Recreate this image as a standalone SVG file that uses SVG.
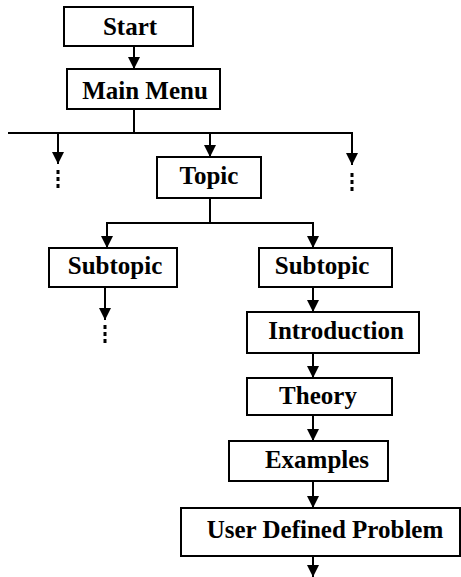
<svg xmlns="http://www.w3.org/2000/svg" width="461" height="577" viewBox="0 0 461 577">
<style>
.box{fill:#fff;stroke:#000;stroke-width:2}
.lbl{font-family:"Liberation Serif","Times New Roman",serif;font-weight:bold;font-size:25px;fill:#000;text-anchor:middle}
.ln{stroke:#000;stroke-width:2;fill:none}
.dots{stroke:#000;stroke-width:3;stroke-dasharray:4 3;fill:none}
</style>
<defs>
<marker id="ah" markerWidth="12" markerHeight="12" refX="12" refY="6" orient="auto" markerUnits="userSpaceOnUse" viewBox="0 0 12 12">
<path d="M0,0 L12,6 L0,12 Z" fill="#000"/>
</marker>
</defs>
<g id="connectors">
<line class="ln" x1="134" y1="46" x2="134" y2="69" marker-end="url(#ah)"/>
<polyline class="ln" points="134,109 134,133"/>
<line class="ln" x1="8" y1="133" x2="353" y2="133"/>
<line class="ln" x1="58" y1="133" x2="58" y2="164" marker-end="url(#ah)"/>
<line class="ln" x1="210" y1="133" x2="210" y2="157" marker-end="url(#ah)"/>
<line class="ln" x1="352" y1="133" x2="352" y2="165" marker-end="url(#ah)"/>
<line class="dots" x1="58" y1="170" x2="58" y2="191"/>
<line class="dots" x1="352" y1="173" x2="352" y2="194"/>
<polyline class="ln" points="210,198 210,223"/>
<line class="ln" x1="106" y1="223" x2="314" y2="223"/>
<line class="ln" x1="107" y1="223" x2="107" y2="248" marker-end="url(#ah)"/>
<line class="ln" x1="313" y1="223" x2="313" y2="248" marker-end="url(#ah)"/>
<line class="ln" x1="105" y1="287" x2="105" y2="320" marker-end="url(#ah)"/>
<line class="dots" x1="105" y1="325" x2="105" y2="346"/>
<line class="ln" x1="313" y1="287" x2="313" y2="312" marker-end="url(#ah)"/>
<line class="ln" x1="313" y1="353" x2="313" y2="378" marker-end="url(#ah)"/>
<line class="ln" x1="313" y1="415" x2="313" y2="441" marker-end="url(#ah)"/>
<line class="ln" x1="313" y1="481" x2="313" y2="508" marker-end="url(#ah)"/>
<line class="ln" x1="313" y1="556" x2="313" y2="577" marker-end="url(#ah)"/>
</g>
<g id="start"><rect class="box" x="64" y="7" width="129" height="39"/><text class="lbl" x="130" y="35">Start</text></g>
<g id="main-menu"><rect class="box" x="67" y="69" width="153" height="40"/><text class="lbl" x="145" y="99">Main Menu</text></g>
<g id="topic"><rect class="box" x="157" y="157" width="104" height="41"/><text class="lbl" x="209" y="184">Topic</text></g>
<g id="subtopic-left"><rect class="box" x="49" y="248" width="128" height="39"/><text class="lbl" x="115" y="274">Subtopic</text></g>
<g id="subtopic-right"><rect class="box" x="259" y="248" width="133" height="39"/><text class="lbl" x="322" y="274">Subtopic</text></g>
<g id="introduction"><rect class="box" x="247" y="312" width="172" height="41"/><text class="lbl" x="336" y="339">Introduction</text></g>
<g id="theory"><rect class="box" x="247" y="378" width="145" height="37"/><text class="lbl" x="318" y="404">Theory</text></g>
<g id="examples"><rect class="box" x="229" y="441" width="159" height="40"/><text class="lbl" x="317" y="468">Examples</text></g>
<g id="user-defined-problem"><rect class="box" x="181" y="508" width="279" height="48"/><text class="lbl" x="325" y="538">User Defined Problem</text></g>
</svg>
